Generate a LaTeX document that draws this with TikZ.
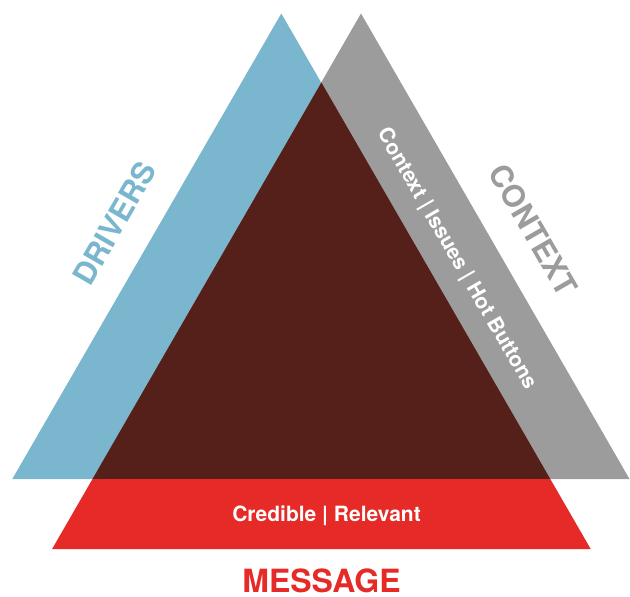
\documentclass[tikz,border=0pt]{standalone}
\usepackage{fontspec}
\setmainfont{TeX Gyre Heros}
\definecolor{driverblue}{RGB}{123,182,207}
\definecolor{contextgray}{RGB}{156,156,156}
\definecolor{corebrown}{RGB}{86,32,26}
\definecolor{messagered}{RGB}{229,42,39}
\tikzset{
  sidelabel/.style={font=\fontsize{30.5}{30.5}\selectfont\bfseries, inner sep=0pt},
  bandlabel/.style={font=\fontsize{21}{21}\selectfont\bfseries, text=white, inner sep=0pt}
}
\begin{document}
\begin{tikzpicture}[x=1pt, y=-1pt, line join=round]
	\useasboundingbox (0,0) rectangle (630,597);
	% the two big triangles, their overlap and the band below
	\coordinate (bl) at (12.3,479); \coordinate (bt) at (281.3,13.5); \coordinate (br) at (550.3,479);
	\coordinate (gl) at (92.5,479); \coordinate (gt) at (361,13.5); \coordinate (gr) at (629.5,479);
	\coordinate (ct) at (321.4,82.5);
	\coordinate (ml) at (52.1,549); \coordinate (mr) at (590.7,549);
	\fill[driverblue] (bl)--(bt)--(br)--cycle;
	\fill[contextgray] (gl)--(gt)--(gr)--cycle;
	\fill[corebrown] (gl)--(ct)--(br)--cycle;
	\fill[messagered] (gl)--(br)--(mr)--(ml)--cycle;
	\node[sidelabel, text=driverblue, rotate=60] (drivers) at (114.5,223) {DRIVERS};
	\node[sidelabel, text=contextgray, rotate=-60] (context) at (533.3,230) {CONTEXT};
	\node[bandlabel, rotate=-60] (issues) at (456.7,259) {Context | Issues | Hot Buttons};
	\node[bandlabel] (credible) at (326.5,516) {Credible | Relevant};
	\node[sidelabel, text=messagered, font=\fontsize{32}{32}\selectfont\bfseries] (message) at (321.5,580.5) {MESSAGE};
\end{tikzpicture}
\end{document}
